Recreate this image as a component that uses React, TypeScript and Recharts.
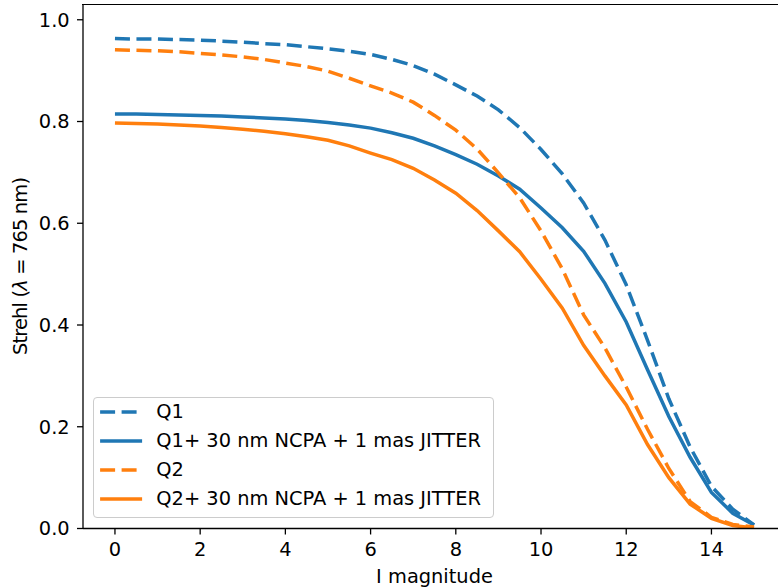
import React from 'react'
import { LineChart, Line, XAxis, YAxis, Label } from 'recharts'

const magnitudes = [
  0, 0.5, 1, 1.5, 2, 2.5, 3, 3.5, 4, 4.5, 5, 5.5, 6, 6.5, 7, 7.5, 8, 8.5, 9, 9.5, 10,
  10.5, 11, 11.5, 12, 12.5, 13, 13.5, 14, 14.5, 15,
]

const q1 = [
  0.963, 0.962, 0.962, 0.961, 0.96, 0.958, 0.956, 0.953, 0.951, 0.947, 0.943, 0.938, 0.932,
  0.922, 0.91, 0.893, 0.872, 0.85, 0.823, 0.788, 0.745, 0.697, 0.64, 0.567, 0.479, 0.37, 0.255,
  0.16, 0.083, 0.038, 0.007,
]

const q1Ncpa = [
  0.815, 0.815, 0.814, 0.813, 0.812, 0.811, 0.809, 0.807, 0.805, 0.802, 0.798, 0.793, 0.787,
  0.778, 0.767, 0.752, 0.735, 0.716, 0.693, 0.667, 0.63, 0.591, 0.545, 0.482, 0.406, 0.312,
  0.22, 0.14, 0.071, 0.03, 0.007,
]

const q2 = [
  0.941, 0.94, 0.939, 0.937, 0.934, 0.931, 0.927, 0.922, 0.915, 0.908, 0.899, 0.885, 0.87,
  0.856, 0.838, 0.812, 0.783, 0.746, 0.699, 0.65, 0.585, 0.51, 0.42, 0.355, 0.278, 0.195,
  0.118, 0.053, 0.022, 0.008, 0.003,
]

const q2Ncpa = [
  0.797, 0.796, 0.795, 0.793, 0.791, 0.788, 0.785, 0.781, 0.776, 0.77, 0.763, 0.752, 0.738,
  0.725, 0.708, 0.685, 0.659, 0.625, 0.585, 0.544, 0.49, 0.433, 0.36, 0.3, 0.243, 0.165,
  0.1, 0.048, 0.02, 0.006, 0.001,
]

const xTicks = [0, 2, 4, 6, 8, 10, 12, 14]
const yTicks = [0, 0.2, 0.4, 0.6, 0.8, 1.0]

const seriesNames = [
  'Q1',
  'Q1+ 30 nm NCPA + 1 mas JITTER',
  'Q2',
  'Q2+ 30 nm NCPA + 1 mas JITTER',
]

const BLUE = '#1f77b4'
const ORANGE = '#ff7f0e'
const DASH = '15 6.5'
const FONT = '"DejaVu Sans", sans-serif'
const FS = 19.4

const chartData = magnitudes.map((m, i) => ({
  m,
  q1: q1[i],
  q1n: q1Ncpa[i],
  q2: q2[i],
  q2n: q2Ncpa[i],
}))

const legendItems = [
  { name: seriesNames[0], color: BLUE, dash: DASH },
  { name: seriesNames[1], color: BLUE, dash: undefined },
  { name: seriesNames[2], color: ORANGE, dash: DASH },
  { name: seriesNames[3], color: ORANGE, dash: undefined },
]

const YLabel = () => (
  <text
    transform='translate(27,266) rotate(-90)'
    textAnchor='middle'
    fontSize={FS}
    fill='#000'
    fontFamily={FONT}
    textLength={178}
    lengthAdjust='spacing'
  >
    Strehl (<tspan fontStyle='italic'>λ</tspan> = 765 nm)
  </text>
)

const tickStyle = { fontSize: FS, fill: '#000', fontFamily: FONT }

export default function App() {
  return (
    <div
      style={{
        position: 'absolute',
        left: 0,
        top: 0,
        width: 778,
        height: 588,
        overflow: 'hidden',
        background: '#fff',
        fontFamily: FONT,
      }}
    >
      <LineChart
        width={800}
        height={588}
        data={chartData}
        margin={{ top: 4.5, right: 14, bottom: 0, left: 0 }}
      >
        <XAxis
          dataKey='m'
          type='number'
          domain={[-0.75, 15.75]}
          ticks={xTicks}
          allowDataOverflow
          height={59.5}
          tickSize={6}
          tickMargin={7.5}
          tick={tickStyle}
          stroke='#000'
          axisLine={{ stroke: '#000', strokeWidth: 1.3 }}
          tickLine={{ stroke: '#000', strokeWidth: 1.3 }}
        >
          <Label
            value='I magnitude'
            position='insideBottom'
            offset={5}
            style={{ fontSize: FS, fill: '#000', fontFamily: FONT }}
          />
        </XAxis>
        <YAxis
          type='number'
          domain={[0, 1.03]}
          ticks={yTicks}
          allowDataOverflow
          width={83}
          tickSize={6}
          tickMargin={7.3}
          tick={tickStyle}
          tickFormatter={(v: number) => v.toFixed(1)}
          stroke='#000'
          axisLine={{ stroke: '#000', strokeWidth: 1.3 }}
          tickLine={{ stroke: '#000', strokeWidth: 1.3 }}
          label={<YLabel />}
        />
        <Line
          dataKey='q1'
          stroke={BLUE}
          strokeWidth={3.5}
          strokeDasharray={DASH}
          dot={false}
          isAnimationActive={false}
          type='linear'
        />
        <Line
          dataKey='q1n'
          stroke={BLUE}
          strokeWidth={3.5}
          dot={false}
          isAnimationActive={false}
          type='linear'
        />
        <Line
          dataKey='q2'
          stroke={ORANGE}
          strokeWidth={3.5}
          strokeDasharray={DASH}
          dot={false}
          isAnimationActive={false}
          type='linear'
        />
        <Line
          dataKey='q2n'
          stroke={ORANGE}
          strokeWidth={3.5}
          dot={false}
          isAnimationActive={false}
          type='linear'
        />
      </LineChart>
      {/* top border of the axes box */}
      <div
        style={{
          position: 'absolute',
          left: 82.4,
          top: 3.9,
          width: 720,
          height: 1.3,
          background: '#000',
        }}
      />
      <div
        style={{
          position: 'absolute',
          left: 93.3,
          top: 396.7,
          width: 401,
          height: 121.6,
          border: '1.3px solid #cccccc',
          borderRadius: 4,
          background: 'rgba(255,255,255,0.8)',
          boxSizing: 'border-box',
        }}
      >
        {legendItems.map((item, i) => (
          <div
            key={item.name}
            style={{
              position: 'absolute',
              left: 0,
              top: 2.3 + i * 29,
              height: 24,
              display: 'flex',
              alignItems: 'center',
              whiteSpace: 'nowrap',
            }}
          >
            <svg width={60} height={24} style={{ display: 'block' }}>
              <line
                x1={6.1}
                x2={48.1}
                y1={12}
                y2={12}
                stroke={item.color}
                strokeWidth={3.5}
                strokeDasharray={item.dash}
              />
            </svg>
            <span style={{ fontSize: FS, color: '#000', marginLeft: 2, lineHeight: '24px' }}>
              {item.name}
            </span>
          </div>
        ))}
      </div>
    </div>
  )
}
